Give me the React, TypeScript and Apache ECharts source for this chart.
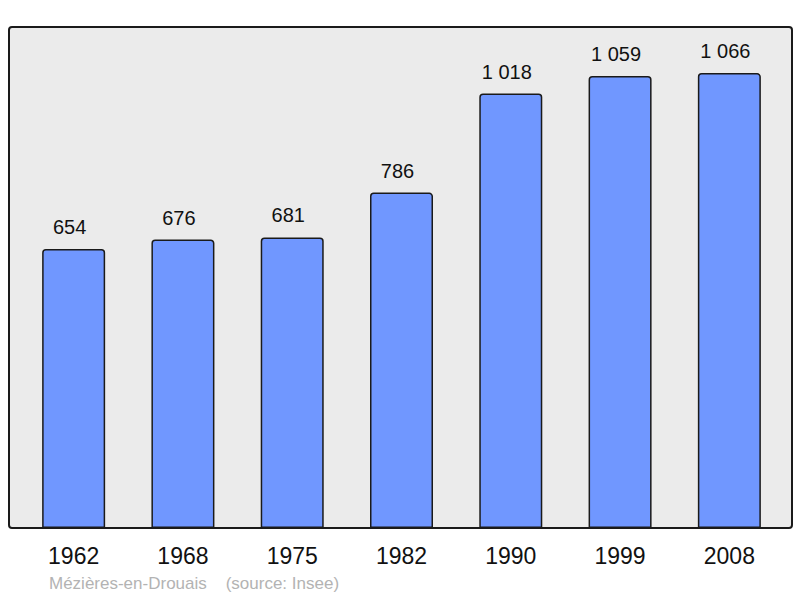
import React, { useEffect, useRef } from "react";
import * as echarts from "echarts";

const years = ["1962", "1968", "1975", "1982", "1990", "1999", "2008"];
const population = [654, 676, 681, 786, 1018, 1059, 1066];
const footerText = "Mézières-en-Drouais    (source: Insee)";

function fmt(v: number): string {
  const s = String(v);
  return s.length > 3 ? s.slice(0, s.length - 3) + " " + s.slice(-3) : s;
}

export default function App() {
  const ref = useRef<HTMLDivElement>(null);
  useEffect(() => {
    if (!ref.current) return;
    const chart = echarts.init(ref.current, undefined, { renderer: "svg" });
    chart.setOption({
      animation: false,
      backgroundColor: "#ffffff",
      textStyle: { fontFamily: "Liberation Sans, Arial, sans-serif" },
      grid: { left: 19, right: 16, top: 27, bottom: 70 },
      graphic: [
        {
          type: "rect",
          z: -10,
          shape: { x: 9, y: 27, width: 783, height: 501, r: 3 },
          style: { fill: "#ebebeb", stroke: "#1a1a1a", lineWidth: 2 },
        },
        {
          type: "text",
          left: 49,
          top: 575,
          style: {
            text: footerText,
            fill: "#b3b3b3",
            font: "17px 'Liberation Sans', Arial, sans-serif",
          },
        },
      ],
      xAxis: {
        type: "category",
        data: years,
        axisLine: { show: false },
        axisTick: { show: false },
        axisLabel: {
          color: "#111",
          fontSize: 23,
          margin: 16,
          fontFamily: "Liberation Sans, Arial, sans-serif",
        },
      },
      yAxis: {
        type: "value",
        min: 0,
        max: 1174,
        show: false,
        splitLine: { show: false },
      },
      series: [
        {
          type: "bar",
          data: population,
          barWidth: 63,
          itemStyle: {
            color: "#7097ff",
            borderColor: "#1a1a1a",
            borderWidth: 1.5,
            borderRadius: [3, 3, 0, 0],
          },
          label: {
            show: true,
            position: "top",
            distance: 12,
            offset: [-4, 0],
            color: "#111",
            fontSize: 20,
            fontFamily: "Liberation Sans, Arial, sans-serif",
            formatter: (p: any) => fmt(p.value),
          },
        },
      ],
    });
    return () => chart.dispose();
  }, []);
  return <div ref={ref} style={{ width: 800, height: 598, position: "absolute", left: 0, top: 0 }} />;
}
